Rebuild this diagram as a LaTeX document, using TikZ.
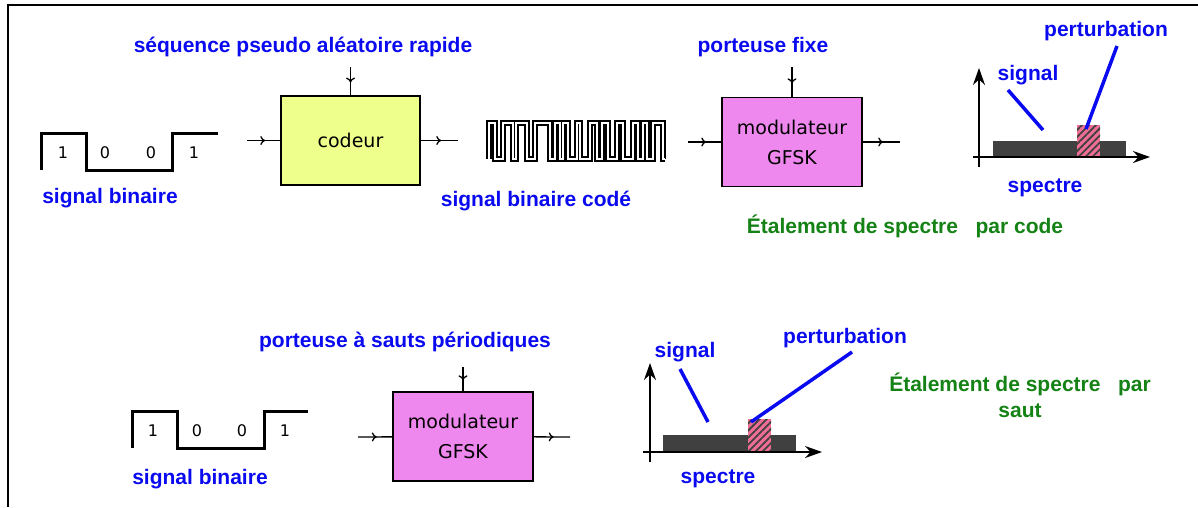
\documentclass[tikz,border=0pt]{standalone}
\usepackage{fontspec}
\setmainfont{Liberation Sans}
\newfontfamily\boxfont{DejaVu Sans}
\usetikzlibrary{arrows.meta,decorations.markings,patterns.meta}

\definecolor{labelblue}{RGB}{10,10,240}
\definecolor{notegreen}{RGB}{20,130,20}
\definecolor{coderfill}{RGB}{238,255,140}
\definecolor{modfill}{RGB}{238,136,238}
\definecolor{bandgray}{RGB}{64,64,64}
\definecolor{jampink}{RGB}{240,110,150}

\tikzset{
  lbl/.style={text=labelblue, inner sep=0pt, font=\fontsize{21}{24}\selectfont\bfseries},
  note/.style={text=notegreen, inner sep=0pt, align=center, font=\fontsize{21}{26}\selectfont\bfseries},
  block/.style={draw, line width=1.5pt, minimum width=140pt, minimum height=89pt,
    align=center, font=\boxfont\fontsize{19}{30}\selectfont},
  bit/.style={inner sep=0pt, font=\boxfont\fontsize{16}{18}\selectfont},
  feed/.style={line width=1.3pt, postaction={decorate},
    decoration={markings, mark=at position 0.55 with {\arrow{To[length=5pt,width=9pt]}}}},
  wave/.style={line width=3pt, line join=miter},
  coded/.style={line width=1.8pt, double distance=1.5pt, line join=miter},
  axis/.style={line width=1.6pt, -{Stealth[length=17pt,width=12pt]}},
  pointer/.style={labelblue, line width=3.5pt},
  hatch/.style={pattern={Lines[angle=45,distance=5pt,line width=1.8pt]}, pattern color=black!75},
}

\begin{document}
\begin{tikzpicture}[x=1pt,y=-1pt]
  \useasboundingbox (0,0) rectangle (1198,507);
  % frame
  \draw[line width=2pt] (1198,5) -- (8,5) -- (8,507);

  %%% spreading by code
  % binary input
  \draw[wave] (41,170) |- (86,133) |- (172,170) |- (218,133);
  \node[bit] (b1) at (63,153) {1};
  \node[bit] (b2) at (105,153) {0};
  \node[bit] (b3) at (151,153) {0};
  \node[bit] (b4) at (194,153) {1};
  \node[lbl] (bin) at (110,198) {signal binaire};

  % coder
  \node[block, fill=coderfill, minimum width=139pt] (coder) at (350.5,140.5) {codeur};
  \node[lbl] (pn) at (303,47) {séquence pseudo aléatoire rapide};
  \coordinate (coder-in) at (247,140.5);
  \coordinate (coder-out) at (458,140.5);
  \coordinate (pn-in) at (coder.north |- 0,67);
  \draw[feed] (coder-in) -- (coder);
  \draw[feed] (coder) -- (coder-out);
  \draw[feed] (pn-in) -- (coder.north);

  % coded chips
  \draw[coded] (489,159) |- (495,123) |- (503,159) |- (513,123) |- (516,159)
    |- (527,123) |- (535,159) |- (550,123) |- (555,159) |- (560,123) |- (563,159)
    |- (568,123) |- (577,159) |- (580,123) |- (590,159) |- (597,123) |- (602,159)
    |- (608,123) |- (617,159) |- (623,123) |- (633,159) |- (638,123) |- (643,159)
    |- (647,123) |- (653,159) |- (663,123) |- (665,159);
  \node[lbl] (chips) at (536,201) {signal binaire codé};

  % fixed carrier modulator
  \node[block, fill=modfill] (modA) at (792,142) {modulateur\\GFSK};
  \node[lbl] (carA) at (763,47) {porteuse fixe};
  \coordinate (modA-in) at (688,142);
  \coordinate (modA-out) at (900,142);
  \coordinate (carA-in) at (modA.north |- 0,67);
  \draw[feed] (modA-in) -- (modA);
  \draw[feed] (modA) -- (modA-out);
  \draw[feed] (carA-in) -- (modA.north);

  % spectrum
  \fill[bandgray] (993,141) rectangle (1126,157);
  \fill[jampink] (1077,125) rectangle (1100,157);
  \fill[hatch] (1077,125) rectangle (1100,157);
  \draw[axis] (979,167) -- (979,68);
  \draw[axis] (973,157) -- (1150,157);
  \node[lbl] (sigA) at (1028,75) {signal};
  \node[lbl] (jamA) at (1106,31) {perturbation};
  \node[lbl] (specA) at (1045,188) {spectre};
  \coordinate (sigA-from) at (1008,90);
  \coordinate (sigA-to) at (1043,130);
  \coordinate (jamA-from) at (1117,46);
  \coordinate (jamA-to) at (1086,129);
  \draw[pointer] (sigA-from) -- (sigA-to);
  \draw[pointer] (jamA-from) -- (jamA-to);
  \node[note] (codeNote) at (905,226) {Étalement de spectre~~~par code};

  %%% spreading by hopping
  \draw[wave] (132,448) |- (177,411) |- (264,448) |- (308,411);
  \node[bit] (c1) at (153,431) {1};
  \node[bit] (c2) at (197,431) {0};
  \node[bit] (c3) at (242,431) {0};
  \node[bit] (c4) at (285,431) {1};
  \node[lbl] (binB) at (200,479) {signal binaire};

  \node[block, fill=modfill] (modB) at (463,436.5) {modulateur\\GFSK};
  \node[lbl] (carB) at (405,342) {porteuse à sauts périodiques};
  \coordinate (modB-in) at (358,437);
  \coordinate (modB-out) at (570,437);
  \coordinate (carB-in) at (modB.north |- 0,367);
  \draw[feed] (modB-in) -- (modB);
  \draw[feed] (modB) -- (modB-out);
  \draw[feed] (carB-in) -- (modB.north);

  \fill[bandgray] (663,435) rectangle (796,452);
  \fill[jampink] (748,419) rectangle (771,452);
  \fill[hatch] (748,419) rectangle (771,452);
  \draw[axis] (650,462) -- (650,363);
  \draw[axis] (643,452) -- (822,452);
  \node[lbl] (sigB) at (685,352) {signal};
  \node[lbl] (jamB) at (845,338) {perturbation};
  \node[lbl] (specB) at (718,479) {spectre};
  \coordinate (sigB-from) at (680,369);
  \coordinate (sigB-to) at (708,422);
  \coordinate (jamB-from) at (852,352);
  \coordinate (jamB-to) at (751,422);
  \draw[pointer] (sigB-from) -- (sigB-to);
  \draw[pointer] (jamB-from) -- (jamB-to);
  \node[note] (hopNote) at (1020,395) {Étalement de spectre~~~par\\saut};
\end{tikzpicture}
\end{document}
